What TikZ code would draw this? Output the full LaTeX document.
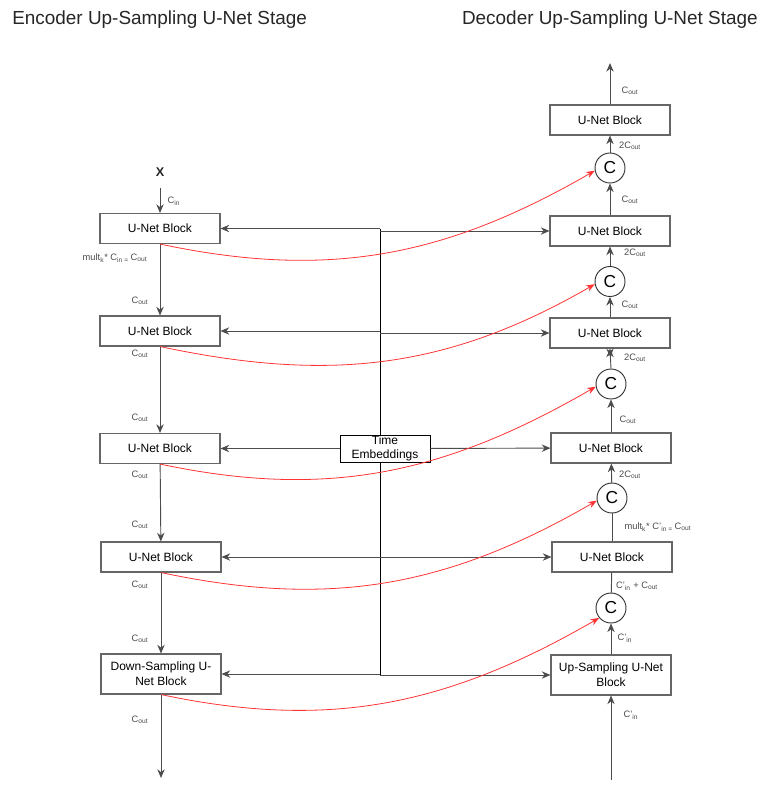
\documentclass[tikz,border=0pt]{standalone}
\usepackage{fontspec}
\setmainfont{Liberation Sans}
\usetikzlibrary{arrows.meta}

\begin{document}
\begin{tikzpicture}[x=0.75pt,y=-0.75pt,font=\fontsize{9}{11}\selectfont]
\tikzstyle{block} = [rectangle, draw=black!60, line width=0.8pt, fill=white,
minimum width=90pt, minimum height=22.5pt, inner sep=1pt, align=center]
\tikzstyle{tall} = [block, minimum height=30pt]
\tikzstyle{concat} = [circle, draw=black!80, line width=0.7pt, fill=white,
minimum size=22.5pt, inner sep=0pt, font=\fontsize{13}{15}\selectfont]
\tikzstyle{lbl} = [text=black!70, font=\fontsize{7}{8}\selectfont, inner sep=0pt]
\tikzstyle{title} = [text=black!85, font=\fontsize{14.2}{17}\selectfont, inner sep=0pt]
\tikzstyle{line} = [draw=black!70, line width=0.7pt, -{Stealth[length=6.5pt,width=5.5pt]}]
\tikzstyle{skip} = [draw=red!80, line width=0.6pt, -{Stealth[length=6.5pt,width=5pt]}]

\useasboundingbox (0,0) rectangle (770,789);

% titles
\node[title, anchor=west] (enctitle) at (12,20) {Encoder Up-Sampling U-Net Stage};
\node[title, anchor=east] (dectitle) at (758,20) {Decoder Up-Sampling U-Net Stage};

% time embedding bus
\coordinate (bustop) at (380,229);
\coordinate (busbot) at (380,675);
\draw[black, line width=0.6pt] (bustop) -- (busbot);

% encoder column
\node[font=\fontsize{9.5}{11}\selectfont\bfseries, text=black!85] (x) at (160,172) {X};
\node[block] (enc1) at (160,228.5) {U-Net Block};
\node[block] (enc2) at (160,331) {U-Net Block};
\node[block] (enc3) at (160,448.5) {U-Net Block};
\node[block] (enc4) at (161,557) {U-Net Block};
\node[tall] (enc5) at (161,674) {Down-Sampling U-\\Net Block};
\coordinate (encout) at (161,778);

% middle
\node[block, draw=black, line width=0.6pt, minimum width=67.5pt, minimum height=20.25pt,
inner sep=0pt, font=\fontsize{9}{10.5}\selectfont] (time) at (385,448.5) {Time\\Embeddings};

% decoder column
\coordinate (decout) at (610,63);
\node[block] (dec1) at (610,120) {U-Net Block};
\node[concat] (cat1) at (610,168) {C};
\node[block] (dec2) at (610,231) {U-Net Block};
\node[concat] (cat2) at (610,281.5) {C};
\node[block] (dec3) at (610,333) {U-Net Block};
\node[concat] (cat3) at (611,384) {C};
\node[block] (dec4) at (611,448) {U-Net Block};
\node[concat] (cat4) at (612,498) {C};
\node[block] (dec5) at (612,557) {U-Net Block};
\node[concat] (cat5) at (611,608) {C};
\node[tall] (dec6) at (611,675) {Up-Sampling U-Net\\Block};
\coordinate (decin) at (611,780);

% channel labels, encoder
\node[lbl] (lin) at (174,201) {C\textsubscript{in}};
\node[lbl] (lmult) at (115,258) {mult\textsubscript{k}* C\textsubscript{in = }C\textsubscript{out}};
\node[lbl] (le1) at (140,301) {C\textsubscript{out}};
\node[lbl] (le2) at (140,354) {C\textsubscript{out}};
\node[lbl] (le3) at (140,418) {C\textsubscript{out}};
\node[lbl] (le4) at (140,475) {C\textsubscript{out}};
\node[lbl] (le5) at (140,525) {C\textsubscript{out}};
\node[lbl] (le6) at (140,585) {C\textsubscript{out}};
\node[lbl] (le7) at (140,639) {C\textsubscript{out}};
\node[lbl] (le8) at (140,720) {C\textsubscript{out}};

% channel labels, decoder
\node[lbl] (ld1) at (630,91) {C\textsubscript{out}};
\node[lbl] (ld2) at (630,146) {2C\textsubscript{out}};
\node[lbl] (ld3) at (630,200) {C\textsubscript{out}};
\node[lbl] (ld4) at (635,253) {2C\textsubscript{out}};
\node[lbl] (ld5) at (630,305) {C\textsubscript{out}};
\node[lbl] (ld6) at (635,358) {2C\textsubscript{out}};
\node[lbl] (ld7) at (628,420) {C\textsubscript{out}};
\node[lbl] (ld8) at (630,475) {2C\textsubscript{out}};
\node[lbl] (ldmult) at (658,527) {mult\textsubscript{k}* C'\textsubscript{in = }C\textsubscript{out}};
\node[lbl] (ldsum) at (637,586) {C'\textsubscript{in} + C\textsubscript{out}};
\node[lbl] (ld9) at (625,638) {C'\textsubscript{in}};
\node[lbl] (ld10) at (631,715) {C'\textsubscript{in}};

\tikzstyle{every path}=[line]
% encoder flow
\path (x) edge[shorten <=5pt] (enc1);
\path (enc1) -- (enc2);
\path (enc2) -- (enc3);
\path (enc3) -- (enc4);
\path (enc4) -- (enc5);
\path (enc5) -- (encout);

% decoder flow
\path (decin) -- (dec6);
\path (dec6) -- (cat5);
\path (dec5) edge[-] (cat5);
\path (dec5) edge[-] (cat4);
\path (cat4) -- (dec4);
\path (dec4) -- (cat3);
\path (dec3.south) edge[{Stealth[length=6.5pt,width=5.5pt,reversed]}-] (cat3.north);
\path (dec3) -- (cat2);
\path (cat2) -- (dec2);
\path (dec2) -- (cat1);
\path (cat1) -- (dec1);
\path (dec1) -- (decout);

% time embeddings to both sides
\path (enc1.east -| bustop) -- (enc1.east);
\path (dec2.west -| bustop) -- (dec2.west);
\path (enc2.east -| bustop) -- (enc2.east);
\path (dec3.west -| bustop) -- (dec3.west);
\path (time) -- (enc3);
\path (time) -- (dec4);
\path (enc4.east -| bustop) -- (enc4.east);
\path (dec5.west -| bustop) -- (dec5.west);
\path (enc5.east -| bustop) -- (enc5.east);
\path (dec6.west -| bustop) -- (dec6.west);

% skip connections
\path[skip] (enc1.south) to[out=-12,in=210] (cat1.190);
\path[skip] (enc2.south) to[out=-12,in=210] (cat2.190);
\path[skip] (enc3.south) to[out=-12,in=210] (cat3.190);
\path[skip] (enc4.south) to[out=-12,in=210] (cat4.190);
\path[skip] (enc5.south) to[out=-12,in=210] (cat5.220);

\end{tikzpicture}
\end{document}
